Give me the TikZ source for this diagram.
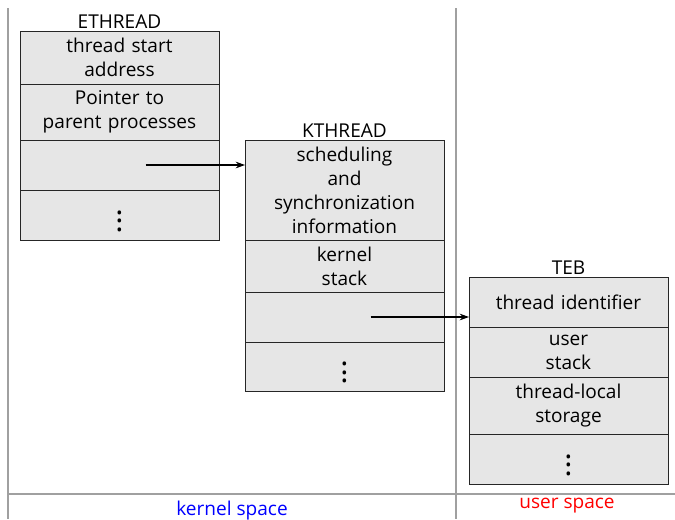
\documentclass[tikz,border=0pt]{standalone}
\usepackage{fontspec}
\setmainfont{Open Sans}
\usetikzlibrary{positioning,arrows.meta}
\definecolor{cellgray}{HTML}{E6E6E6}
\definecolor{sepgray}{HTML}{A0A0A0}
\tikzset{
	cell/.style={draw=black!85, fill=cellgray, line width=0.75pt, outer sep=0pt, inner sep=0pt,
		minimum width=149.25pt, text width=145pt, align=center,
		font=\fontsize{14.3}{18}\selectfont},
	title/.style={font=\fontsize{14.3}{18}\selectfont, inner sep=1.5pt},
	ptr/.style={-{Stealth[length=7pt,width=5pt]}, line width=0.8pt},
	sep/.style={draw=sepgray, line width=1.1pt},
}
\newcommand{\moredots}{\raisebox{-12.2pt}[0pt][0pt]{\scalebox{1.6}{$\boldsymbol{\vdots}$}}}
\usepackage{amsmath}
\begin{document}
\begin{tikzpicture}[x=0.75pt,y=-0.75pt]
		\useasboundingbox (0,0) rectangle (675,519);
		% separators between kernel and user space
		\draw[sep] (8,8) -- (8,519);
		\draw[sep] (456,8) -- (456,519);
		\draw[sep] (8,494) -- (675,494);
		% ETHREAD
		\node[cell, minimum height=39.75pt, anchor=north] (e1) at (119.5,31) {thread start\\address};
		\node[cell, minimum height=42pt, below=0pt of e1] (e2) {Pointer to\\parent processes};
		\node[cell, minimum height=37.5pt, below=0pt of e2] (e3) {};
		\node[cell, minimum height=37.5pt, below=0pt of e3] (e4) {\moredots};
		\node[title, above=0pt of e1] (ethread) {ETHREAD};
		% KTHREAD
		\node[cell, minimum height=75pt, anchor=north] (k1) at (344.5,140) {scheduling\\and\\synchronization\\information};
		\node[cell, minimum height=39pt, below=0pt of k1] (k2) {kernel\\stack};
		\node[cell, minimum height=37.5pt, below=0pt of k2] (k3) {};
		\node[cell, minimum height=36.75pt, below=0pt of k3] (k4) {\moredots};
		\node[title, above=0pt of k1] (kthread) {KTHREAD};
		% TEB
		\node[cell, minimum height=37.5pt, anchor=north] (t1) at (568.5,277) {thread identifier};
		\node[cell, minimum height=37.5pt, below=0pt of t1] (t2) {user\\stack};
		\node[cell, minimum height=42.75pt, below=0pt of t2] (t3) {thread-local\\storage};
		\node[cell, minimum height=37.5pt, below=0pt of t3] (t4) {\moredots};
		\node[title, above=0pt of t1] (teb) {TEB};
		% pointers
		\coordinate (e3ptr) at ([xshift=19.5pt]e3.center);
		\coordinate (k3ptr) at ([xshift=19.5pt]k3.center);
		\draw[ptr] (e3ptr) -- (e3ptr -| k1.west);
		\draw[ptr] (k3ptr) -- (k3ptr -| t1.west);
		% space labels
		\node[title, text=blue] (kspace) at (232,511) {kernel space};
		\node[title, text=red] (uspace) at (567,506) {user space};
	\end{tikzpicture}
\end{document}
